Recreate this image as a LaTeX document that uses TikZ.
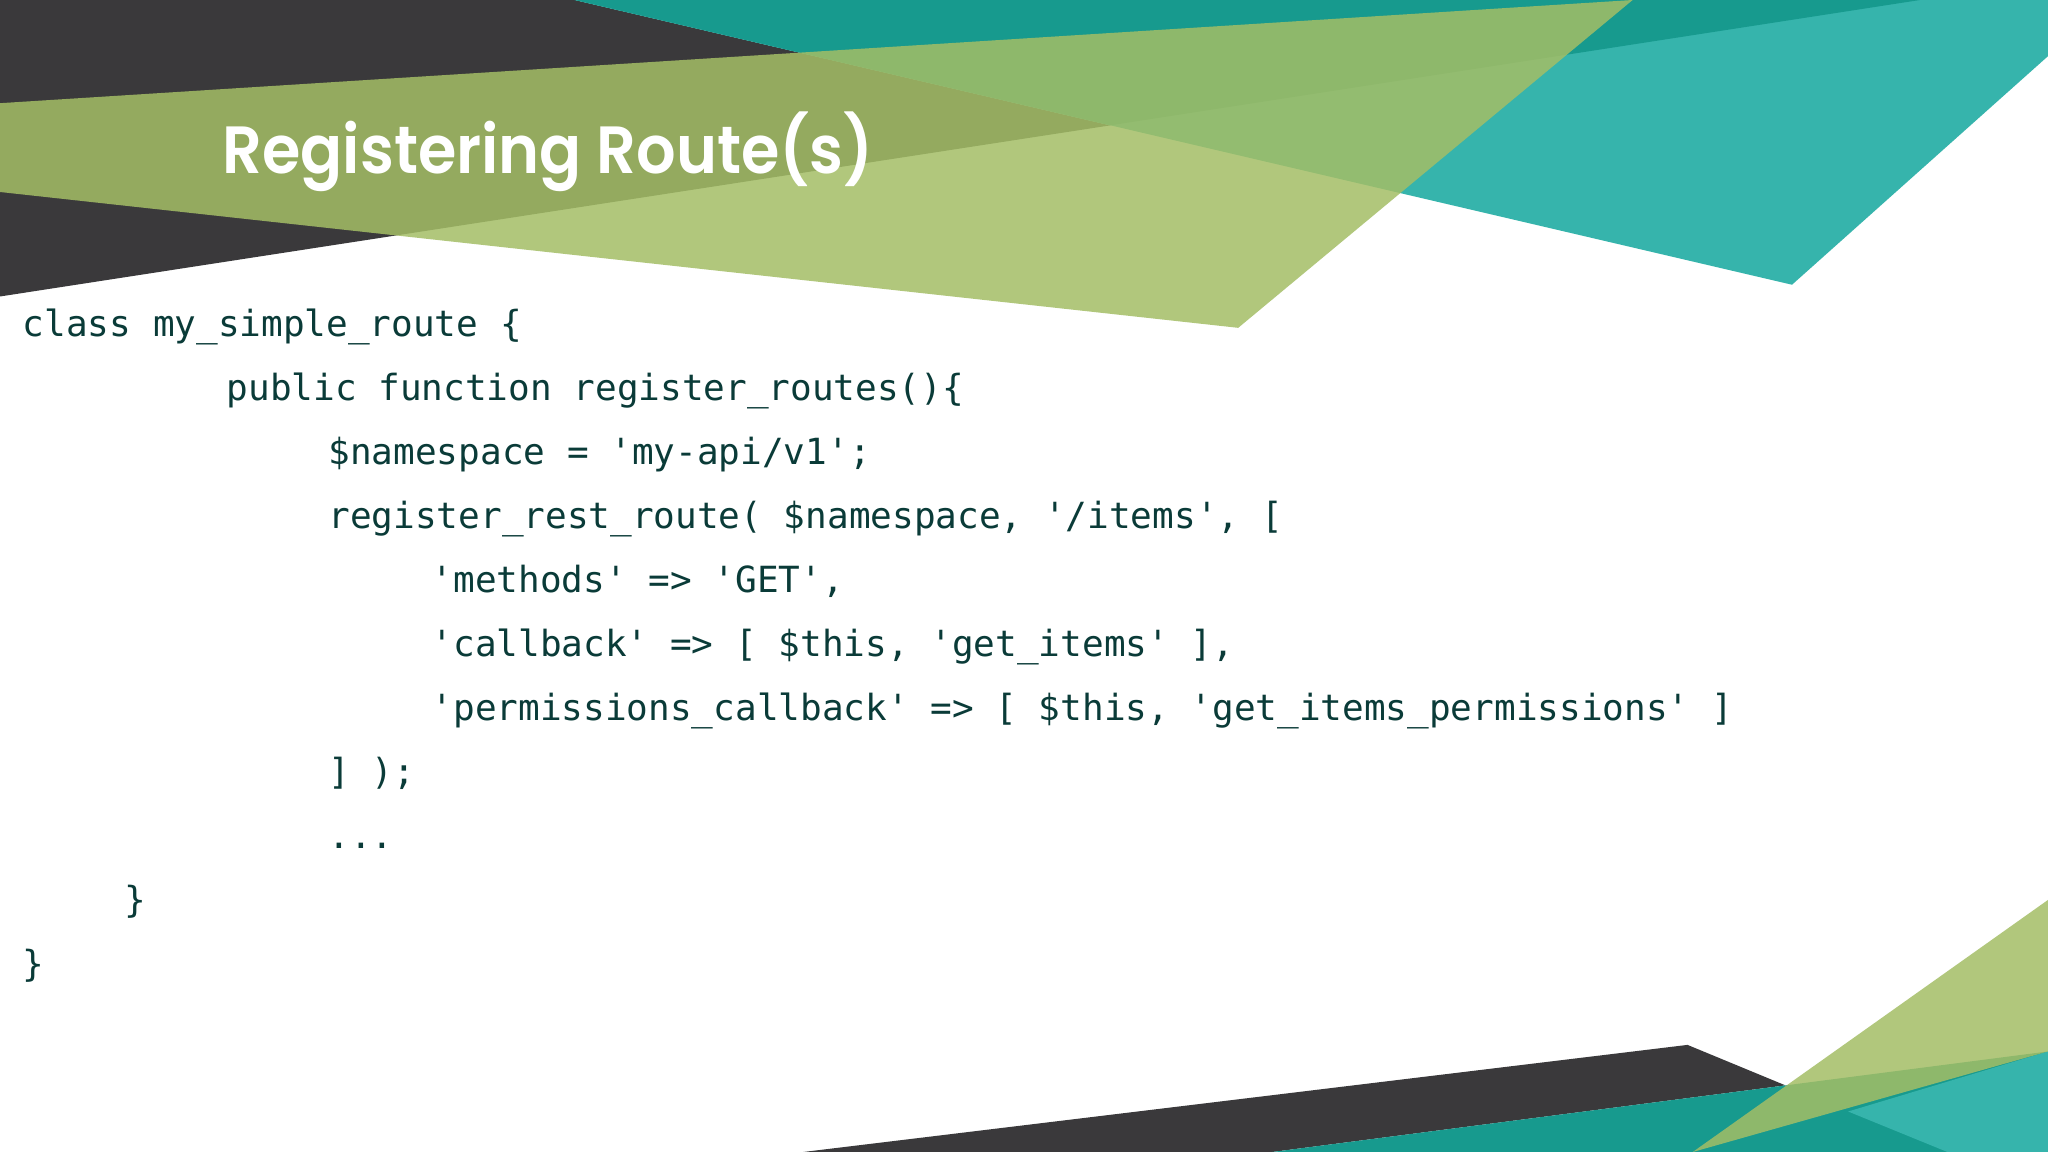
\documentclass[tikz,border=0pt]{standalone}
\usepackage{fontspec}
\setmonofont{DejaVu Sans Mono}
\newfontfamily\titlefont{Poppins}[BoldFont={* SemiBold}]
\definecolor{slate}{HTML}{3A393B}
\definecolor{tealdark}{HTML}{179A8E}
\definecolor{teallight}{HTML}{36B4AC}
\definecolor{leaf}{HTML}{A4BE66}
\definecolor{ink}{HTML}{0A3B38}
\tikzset{every picture/.style={x=0.0130612cm, y=-0.0130612cm}}
\tikzset{code/.style={anchor=base west, inner sep=0pt, text=ink, font=\ttfamily\fontsize{10.25}{12}\selectfont}}
\tikzset{heading/.style={anchor=base west, inner sep=0pt, text=white, font=\titlefont\bfseries\fontsize{19}{24}\selectfont}}
\tikzset{leafpane/.style={fill=leaf, fill opacity=0.85}}

\begin{document}
\begin{tikzpicture}
\useasboundingbox[fill=white] (0,0) rectangle (1568,882);
% top band
\fill[slate] (0,0) -- (440,0) -- (850,96) -- (0,227) -- cycle;
\fill[teallight] (440,0) -- (1568,0) -- (1568,43) -- (1372,218) -- cycle;
\fill[tealdark] (440,0) -- (1470,0) -- (850,96) -- cycle;
\fill[leafpane] (0,79) -- (1250,0) -- (948,251) -- (0,147) -- cycle;
% bottom band
\fill[slate] (615,882) -- (1292,800) -- (1367,831) -- (974,882) -- cycle;
\fill[tealdark] (974,882) -- (1367,831) -- (1568,805) -- (1568,882) -- cycle;
\fill[teallight] (1415,851) -- (1568,805) -- (1568,882) -- (1491,882) -- cycle;
\fill[leafpane] (1296,882) -- (1568,689) -- (1568,805) -- cycle;

\node[heading] (title) at (170,133) {\scalebox{0.93}[1]{Registering Route(s)}};

\node[code] (cls)    at (17,258)  {class my\_simple\_route \{};
\node[code] (pub)    at (173,307) {public function register\_routes()\{};
\node[code] (ns)     at (251,356) {\$namespace = 'my-api/v1';};
\node[code] (reg)    at (251,405) {register\_rest\_route( \$namespace, '/items', [};
\node[code] (meth)   at (330,454) {'methods' => 'GET',};
\node[code] (cb)     at (330,503) {'callback' => [ \$this, 'get\_items' ],};
\node[code] (perm)   at (330,552) {'permissions\_callback' => [ \$this, 'get\_items\_permissions' ]};
\node[code] (regend) at (251,601) {] );};
\node[code] (dots)   at (251,650) {...};
\node[code] (pubend) at (95,699)  {\}};
\node[code] (clsend) at (17,748)  {\}};
\end{tikzpicture}
\end{document}
